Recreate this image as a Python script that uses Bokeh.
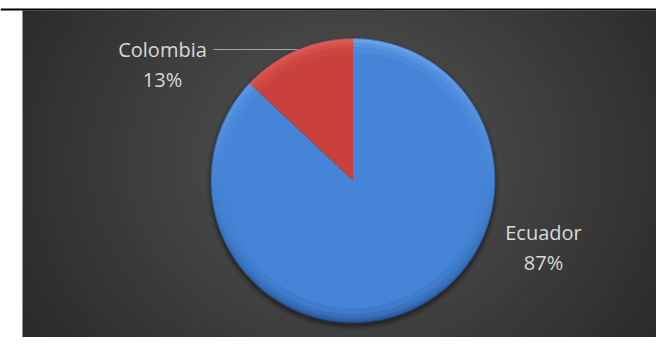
import numpy as np
from bokeh.plotting import figure
from bokeh.models import Range1d
from bokeh.embed import file_html
from bokeh.resources import INLINE
from bokeh.core.properties import value

# ---- data ----
countries = ["Ecuador", "Colombia"]
shares = [87, 13]
slice_colors = ["#4584d6", "#c9413a"]
rim_light = ["#72a8ee", "#e0625a"]
rim_dark = ["#28579c", "#8e2722"]

# ---- layout constants (picture pixels) ----
W, H = 656, 337
CX, CY, R = 352.5, 180.0, 142.0
label_pos = {"Ecuador": (543, 232), "Colombia": (162, 49)}
LINE_GAP = 30


def hex2rgb(h):
    h = h.lstrip("#")
    return np.array([int(h[i:i + 2], 16) for i in (0, 2, 4)], dtype=float)


def rgb2hex(c):
    c = np.clip(np.round(c), 0, 255).astype(int)
    return "#%02x%02x%02x" % tuple(c)


p = figure(width=W, height=H, x_range=Range1d(0, W), y_range=Range1d(-H, 0),
           output_backend="svg", toolbar_location=None, min_border=0)
p.axis.visible = False
p.grid.visible = False
p.outline_line_color = None
p.background_fill_color = "white"
p.border_fill_color = "white"

# ---- background radial gradient ----
x0, x1, y0, y1 = 22, W, 10, H
nx, ny = x1 - x0, y1 - y0
xs = np.arange(nx) + x0 + 0.5
ys = np.arange(ny) + y0 + 0.5
XX, YY = np.meshgrid(xs, ys)
d = np.sqrt(((XX - 345) / 1.15) ** 2 + (YY - 160) ** 2) / 330
t = np.clip(d, 0, 1)
g = (86 * (1 - t) + 42 * t).astype(np.uint32)
img = (np.uint32(255) << 24) | (g << 16) | (g << 8) | g
p.image_rgba(image=[img[::-1]], x=x0, y=-y1, dw=nx, dh=ny)

# top black rule
p.quad(left=0, right=W, top=-8, bottom=-10, fill_color="black", line_color=None)

# ---- shadow ----
for k, a in [(5, 0.06), (3.5, 0.08), (2, 0.12), (1, 0.15)]:
    p.circle(x=CX, y=-(CY + 3), radius=R + k, fill_color="black", fill_alpha=a, line_color=None)

# ---- pie ----
total = float(sum(shares))
cum = np.concatenate([[0], np.cumsum(shares)]) / total
starts = np.pi / 2 - 2 * np.pi * cum[:-1]
ends = np.pi / 2 - 2 * np.pi * cum[1:]

p.wedge(x=CX, y=-CY, radius=R, start_angle=list(starts), end_angle=list(ends),
        direction="clock", fill_color=slice_colors, line_color=None)

# bevel rim, light from top
for i in range(len(shares)):
    base = hex2rgb(slice_colors[i])
    lt = hex2rgb(rim_light[i])
    dk = hex2rgb(rim_dark[i])
    n = max(2, int(abs(starts[i] - ends[i]) / np.radians(3)))
    edges = np.linspace(starts[i], ends[i], n + 1)
    for (rin, rout, strength) in [(R - 14, R - 8, 0.2), (R - 8, R - 4, 0.45),
                                  (R - 4, R - 1.5, 0.75), (R - 1.5, R, 1.0)]:
        cols, sa, ea = [], [], []
        for j in range(n):
            th = 0.5 * (edges[j] + edges[j + 1])
            s = np.sin(th)
            if s > 0:
                c = base + (lt - base) * s * strength
            else:
                c = base + (dk - base) * (-s) * strength
            cols.append(rgb2hex(c))
            sa.append(edges[j])
            ea.append(edges[j + 1])
        p.annular_wedge(x=CX, y=-CY, inner_radius=rin, outer_radius=rout,
                        start_angle=sa, end_angle=ea, direction="clock",
                        fill_color=cols, line_color=cols, line_width=0.5)

# thin outline
p.circle(x=CX, y=-CY, radius=R, fill_color=None, line_color="#1e3f70", line_alpha=0.5, line_width=1)

# ---- labels ----
for name, s in zip(countries, shares):
    lx, ly = label_pos[name]
    p.text(x=[lx], y=[-ly], text=[name], text_align="center", text_baseline="alphabetic",
           text_font=value("Open Sans"), text_font_size="20px", text_color="#d9d9d9")
    p.text(x=[lx], y=[-(ly + LINE_GAP)], text=["%d%%" % s], text_align="center",
           text_baseline="alphabetic", text_font=value("Open Sans"), text_font_size="20px",
           text_color="#d9d9d9")

# leader line for Colombia
p.line(x=[213, 297], y=[-49, -49], line_color="#a6a6a6", line_width=1.2)

open("out.html", "w").write(file_html(p, INLINE))
